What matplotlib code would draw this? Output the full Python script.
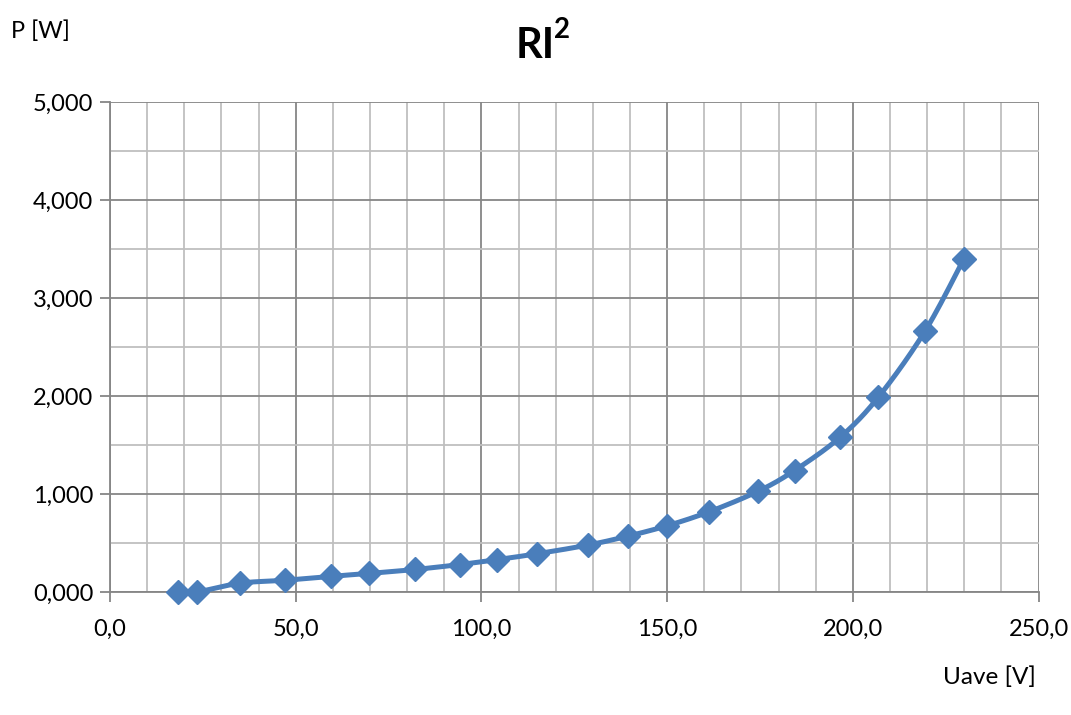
import numpy as np
import matplotlib
matplotlib.use("Agg")
import matplotlib.pyplot as plt
from matplotlib.ticker import MultipleLocator, FuncFormatter

# Data
u_ave = [18.4, 23.3, 35.0, 47.1, 59.4, 69.8, 82.1, 94.1, 104.1, 114.9,
         128.8, 139.4, 149.9, 161.4, 174.6, 184.3, 196.6, 206.9, 219.4, 229.9]
power = [0.0, 0.0, 0.09, 0.12, 0.16, 0.19, 0.23, 0.28, 0.33, 0.39,
         0.48, 0.57, 0.675, 0.82, 1.03, 1.24, 1.58, 1.99, 2.66, 3.40]

title_main = "RI"
title_sup = "2"
ylabel = "P [W]"
xlabel = "Uave [V]"

plt.rcParams['font.family'] = ['Lato', 'DejaVu Sans']

def smooth(xs, ys, n=20):
    # Catmull-Rom style smoothing like a spreadsheet "smoothed line"
    x = np.asarray(xs, float); y = np.asarray(ys, float)
    px = np.concatenate([[x[0]], x, [x[-1]]])
    py = np.concatenate([[y[0]], y, [y[-1]]])
    ox, oy = [], []
    t = np.linspace(0, 1, n, endpoint=False)
    for i in range(1, len(px) - 2):
        p0, p1, p2, p3 = (np.array([px[j], py[j]]) for j in (i-1, i, i+1, i+2))
        c1 = p1 + (p2 - p0) / 6
        c2 = p2 - (p3 - p1) / 6
        b = ((1-t)**3)[:, None]*p1 + (3*(1-t)**2*t)[:, None]*c1 + (3*(1-t)*t**2)[:, None]*c2 + (t**3)[:, None]*p2
        ox.extend(b[:, 0]); oy.extend(b[:, 1])
    ox.append(x[-1]); oy.append(y[-1])
    return ox, oy

fig = plt.figure(figsize=(10.71, 7.15), dpi=100)
ax = fig.add_axes([0.1027, 0.172, 0.8670, 0.6853])

ax.set_xlim(0, 250)
ax.set_ylim(0, 5)
ax.xaxis.set_major_locator(MultipleLocator(50))
ax.xaxis.set_minor_locator(MultipleLocator(10))
ax.yaxis.set_major_locator(MultipleLocator(1))
ax.yaxis.set_minor_locator(MultipleLocator(0.5))
ax.xaxis.set_major_formatter(FuncFormatter(lambda v, p: f"{v:.1f}".replace('.', ',')))
ax.yaxis.set_major_formatter(FuncFormatter(lambda v, p: f"{v:.3f}".replace('.', ',')))

ax.grid(which='major', color='#868686', linewidth=1.3)
ax.grid(which='minor', color='#bfbfbf', linewidth=1.3)
ax.set_axisbelow(True)
for s in ['top', 'right']:
    ax.spines[s].set_visible(False)
for s in ['left', 'bottom']:
    ax.spines[s].set_color('#868686')
    ax.spines[s].set_linewidth(1.3)
ax.tick_params(which='major', length=7, width=1.3, color='#868686', labelsize=17, pad=5)
ax.tick_params(which='minor', length=0)
ax.tick_params(axis='x', pad=12)

sx, sy = smooth(u_ave, power)
ax.plot(sx, sy, color='#4a7ebb', linewidth=3.6, solid_capstyle='round', zorder=3)
ax.plot(u_ave, power, linestyle='none', marker='D', markersize=12,
        color='#4a7ebb', zorder=4, clip_on=False)

fig.text(0.4995, 0.935, title_main, fontsize=30, fontweight='bold',
         ha='center', va='center')
fig.text(0.5175, 0.958, title_sup, fontsize=20, fontweight='bold',
         ha='left', va='center')
fig.text(0.010, 0.957, ylabel, fontsize=17, ha='left', va='center')
fig.text(0.967, 0.053, xlabel, fontsize=17.5, ha='right', va='center')

fig.savefig("out.png", dpi=100)
